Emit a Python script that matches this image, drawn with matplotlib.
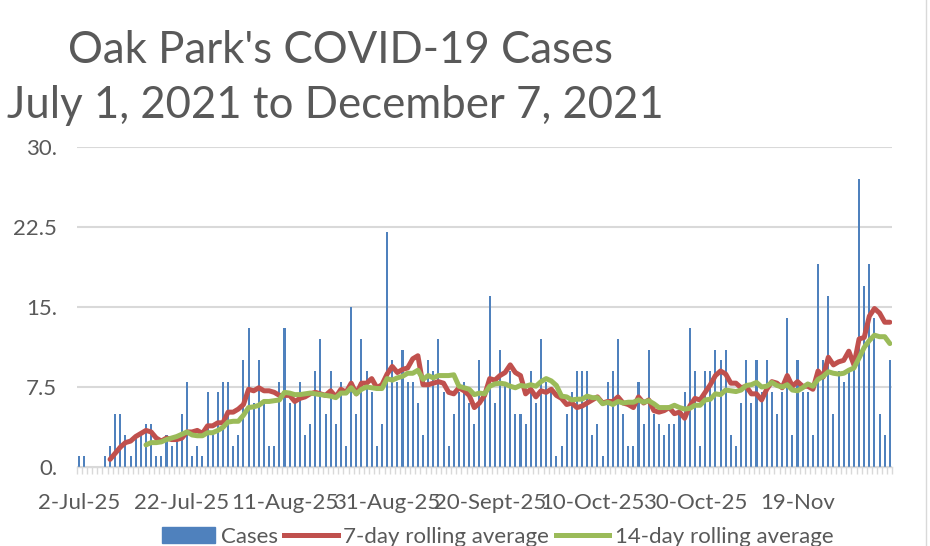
import matplotlib
matplotlib.use("Agg")
import matplotlib.pyplot as plt
from matplotlib.lines import Line2D
from matplotlib.patches import Patch
import numpy as np
import pandas as pd

plt.rcParams['font.family'] = ['Lato', 'DejaVu Sans']

# daily cases, starting 2-Jul
cases = [1, 1, 0, 0, 0, 1, 2, 5, 5, 3,
         1, 3, 3, 4, 4, 1, 1, 3, 2, 3,
         5, 8, 1, 2, 1, 7, 3, 7, 8, 8,
         2, 3, 10, 13, 6, 10, 6, 2, 2, 8,
         13, 6, 6, 8, 3, 4, 9, 12, 5, 9,
         4, 8, 2, 15, 5, 12, 9, 7, 2, 4,
         22, 10, 8, 11, 8, 8, 6, 3, 10, 9,
         12, 7, 2, 5, 7, 8, 6, 4, 10, 7,
         16, 6, 11, 8, 9, 5, 5, 4, 9, 6,
         12, 8, 7, 1, 2, 5, 7, 9, 9, 9,
         3, 4, 1, 8, 9, 12, 5, 2, 2, 8,
         4, 11, 5, 4, 3, 4, 4, 5, 7, 13,
         9, 2, 9, 9, 11, 10, 11, 3, 2, 6,
         10, 6, 10, 7, 10, 7, 5, 7, 14, 3,
         10, 7, 7, 3, 19, 10, 16, 5, 9, 8,
         9, 10, 27, 17, 19, 14, 5, 3, 10]

date_labels = ["2-Jul-25", "22-Jul-25", "11-Aug-25", "31-Aug-25",
               "20-Sept-25", "10-Oct-25", "30-Oct-25", "19-Nov"]
y_ticks = [0, 7.5, 15, 22.5, 30]
y_tick_labels = ["0.", "7.5", "15.", "22.5", "30."]

s = pd.Series(cases, dtype=float)
avg7 = s.rolling(7).mean()
avg14 = s.rolling(14).mean()
days = np.arange(len(cases))

blue = "#4F81BD"
red = "#C0504D"
green = "#9BBB59"
grey_txt = "#595959"
grid_c = "#d9d9d9"

fig = plt.figure(figsize=(9.3, 5.46), dpi=100)
ax = fig.add_axes([0.0825, 0.1447, 0.8771, 0.5861])

ax.bar(days, cases, width=0.4, color=blue, zorder=2)
ax.plot(days, avg7, color=red, lw=3.6, solid_capstyle='round', zorder=3)
ax.plot(days, avg14, color=green, lw=3.6, solid_capstyle='round', zorder=3)

ax.set_xlim(-0.5, len(cases) - 0.5)
ax.set_ylim(0, 30)
ax.set_yticks(y_ticks)
ax.set_yticklabels(y_tick_labels)
ax.yaxis.grid(True, color=grid_c, lw=1.5, zorder=0)
ax.tick_params(axis='y', length=0, pad=14, labelsize=16, labelcolor=grey_txt)

ax.set_xticks(days[::20])
ax.set_xticklabels(date_labels)
ax.set_xticks(np.arange(len(cases) + 1) - 0.5, minor=True)
ax.tick_params(axis='x', which='major', length=0, pad=19, labelsize=16, labelcolor=grey_txt)
ax.tick_params(axis='x', which='minor', length=5, width=1, color=grid_c)

for side in ['top', 'right', 'left']:
    ax.spines[side].set_visible(False)
ax.spines['bottom'].set_color(grid_c)
ax.spines['bottom'].set_linewidth(1)

fig.text(0.366, 0.908, "Oak Park's COVID-19 Cases", ha='center', va='center',
         fontsize=31.5, color=grey_txt)
fig.text(0.361, 0.806, "July 1, 2021 to December 7, 2021", ha='center', va='center',
         fontsize=31.5, color=grey_txt)

handles = [Patch(color=blue),
           Line2D([0], [0], color=red, lw=3.6),
           Line2D([0], [0], color=green, lw=3.6)]
fig.legend(handles, ["Cases", "7-day rolling average", "14-day rolling average"],
           loc='center', bbox_to_anchor=(0.535, 0.0165), ncol=3, frameon=False,
           fontsize=16, labelcolor=grey_txt, handlelength=2.4, handletextpad=0.25,
           columnspacing=0.3)

fig.add_artist(Line2D([0.9957, 0.9957], [0, 1], color=grid_c, lw=1))

fig.savefig("out.png", dpi=100)
